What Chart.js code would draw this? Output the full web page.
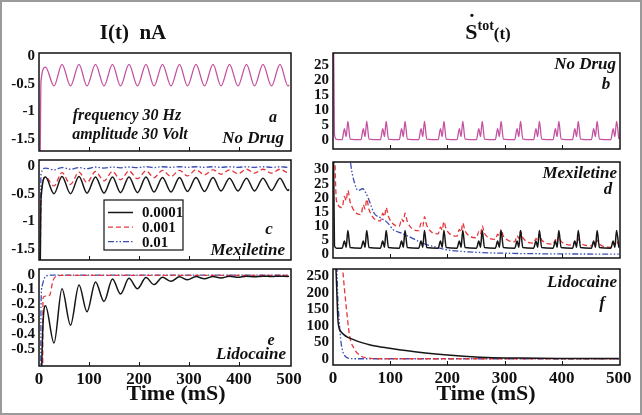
<!DOCTYPE html>
<html>
<head>
<meta charset="utf-8">
<script src="https://cdn.jsdelivr.net/npm/chart.js@4.4.0/dist/chart.umd.min.js"></script>
<style>
  html, body { margin: 0; padding: 0; background: #fff; }
  #fig { position: relative; width: 642px; height: 415px; overflow: hidden; font-family: "Liberation Serif", "DejaVu Serif", serif; color: #111; }
  #fig canvas { position: absolute; }
  #frame { position: absolute; left: 0; top: 0; right: 0; bottom: 0; border: 2px solid #9a9a9a; pointer-events: none; }
  .txt { position: absolute; font-weight: bold; white-space: nowrap; line-height: 1; }
</style>
</head>
<body>
<div id="fig"><div id="frame"></div></div>
<script>
// time axis ticks and per-panel y ticks
const xTicks = [0, 100, 200, 300, 400, 500];
const yTicksI = [0, -0.5, -1, -1.5];
const yTicksLido = [0, -0.1, -0.2, -0.3, -0.4, -0.5];
const yTicksS = [0, 5, 10, 15, 20, 25];
const yTicksSMex = [0, 5, 10, 15, 20, 25, 30];
const yTicksSLido = [0, 50, 100, 150, 200, 250];
const concLabels = ['0.0001', '0.001', '0.01'];

// current traces (left column), sampled at start, peaks and troughs
const tI = [0, 1, 4, 13, 30, 46, 63, 80, 96, 113, 130, 147, 163, 180, 197, 214, 230, 247, 264, 281, 297, 314, 331, 348, 364, 381, 398, 415, 431, 448, 465, 482, 498, 500];
const iNoDrug = [-3, -3, -0.45, -0.2, -0.54, -0.15, -0.54, -0.15, -0.54, -0.15, -0.54, -0.15, -0.54, -0.15, -0.54, -0.15, -0.54, -0.15, -0.54, -0.15, -0.54, -0.15, -0.54, -0.15, -0.54, -0.15, -0.54, -0.15, -0.54, -0.15, -0.54, -0.15, -0.54, -0.52];
const iMex1 = [-3, -3, -0.6, -0.2, -0.5, -0.19, -0.5, -0.19, -0.49, -0.2, -0.49, -0.2, -0.48, -0.2, -0.48, -0.2, -0.47, -0.21, -0.47, -0.21, -0.46, -0.21, -0.46, -0.21, -0.45, -0.22, -0.45, -0.22, -0.45, -0.22, -0.44, -0.22, -0.44, -0.42];
const iMex2 = [-3, -3, -0.6, -0.2, -0.36, -0.12, -0.33, -0.11, -0.3, -0.1, -0.27, -0.1, -0.25, -0.09, -0.23, -0.09, -0.21, -0.08, -0.19, -0.08, -0.18, -0.07, -0.16, -0.07, -0.15, -0.07, -0.14, -0.06, -0.13, -0.06, -0.13, -0.06, -0.12, -0.11];
const iMex3 = [-3, -3, -0.15, -0.04, -0.07, -0.03, -0.06, -0.03, -0.05, -0.02, -0.04, -0.02, -0.035, -0.02, -0.03, -0.015, -0.03, -0.015, -0.025, -0.015, -0.025, -0.015, -0.025, -0.015, -0.025, -0.015, -0.025, -0.015, -0.025, -0.015, -0.025, -0.015, -0.025, -0.02];
const iLido1 = [-3, -3, -0.9, -0.21, -0.46, -0.095, -0.34, -0.07, -0.25, -0.05, -0.18, -0.03, -0.13, -0.025, -0.095, -0.02, -0.067, -0.018, -0.045, -0.015, -0.035, -0.013, -0.028, -0.012, -0.022, -0.011, -0.018, -0.01, -0.015, -0.01, -0.013, -0.01, -0.012, -0.011];
const tLido2 = [0, 6, 8, 12, 21, 28, 35, 45, 500];
const iLido2 = [-3, -3, -0.16, -0.145, -0.14, -0.04, -0.01, -0.005, -0.005];
const tLido3 = [0, 2, 4, 6, 10, 15, 22, 500];
const iLido3 = [-3, -3, -0.22, -0.08, -0.03, -0.008, -0.003, -0.003];

// entropy production traces (right column)
const tS = [0, 2.5, 6,
  16, 20, 23, 26, 30,  49, 53, 56, 59, 63,  83, 87, 90, 93, 97,
  116, 120, 123, 126, 130,  150, 154, 157, 160, 164,  184, 188, 191, 194, 198,
  217, 221, 224, 227, 231,  251, 255, 258, 261, 265,  284, 288, 291, 294, 298,
  318, 322, 325, 328, 332,  351, 355, 358, 361, 365,  385, 389, 392, 395, 399,
  419, 423, 426, 429, 433,  452, 456, 459, 462, 466,  486, 490, 493, 496, 500];
const sNoDrug = [60, 2, 0.3,
  0.2, 3.9, 1.2, 6.3, 0.4,  0.2, 3.9, 1.2, 6.3, 0.4,  0.2, 3.9, 1.2, 6.3, 0.4,
  0.2, 3.9, 1.2, 6.3, 0.4,  0.2, 3.9, 1.2, 6.3, 0.4,  0.2, 3.9, 1.2, 6.3, 0.4,
  0.2, 3.9, 1.2, 6.3, 0.4,  0.2, 3.9, 1.2, 6.3, 0.4,  0.2, 3.9, 1.2, 6.3, 0.4,
  0.2, 3.9, 1.2, 6.3, 0.4,  0.2, 3.9, 1.2, 6.3, 0.4,  0.2, 3.9, 1.2, 6.3, 0.4,
  0.2, 3.9, 1.2, 6.3, 0.4,  0.2, 3.9, 1.2, 6.3, 0.4,  0.2, 3.9, 1.2, 6.3, 0.4];
const sMex1 = [60, 3, 2.1,
  2.1, 4.6, 2.4, 8.4, 2.3,  2.1, 4.6, 2.4, 8.4, 2.3,  2.1, 4.6, 2.4, 8.4, 2.3,
  2.1, 4.6, 2.4, 8.4, 2.3,  2.1, 4.6, 2.4, 8.4, 2.3,  2.1, 4.6, 2.4, 8.4, 2.3,
  2.1, 4.6, 2.4, 8.4, 2.3,  2.1, 4.6, 2.4, 8.4, 2.3,  2.1, 4.6, 2.4, 8.4, 2.3,
  2.1, 4.6, 2.4, 8.4, 2.3,  2.1, 4.6, 2.4, 8.4, 2.3,  2.1, 4.6, 2.4, 8.4, 2.3,
  2.1, 4.6, 2.4, 8.4, 2.3,  2.1, 4.6, 2.4, 8.4, 2.3,  2.1, 4.6, 2.4, 8.4, 2.3];
const sMex2 = [60, 40, 19,
  16.5, 20.5, 19, 22.6, 18.5,  14, 17.5, 16, 19.5, 15.8,  11.8, 14.5, 13.3, 16.5, 13.3,
  9.9, 12.5, 11.5, 14.5, 11.5,  8.3, 11, 9.8, 13.3, 10.2,  7.2, 9.6, 8.5, 11.5, 8.8,
  6.4, 8.8, 7.8, 11, 8.2,  5.8, 8.0, 7.0, 10, 7.4,  5.2, 7.1, 6.3, 8.7, 6.4,
  4.4, 6.5, 5.6, 8.1, 5.8,  3.9, 5.6, 4.9, 7, 5.0,  3.5, 5.1, 4.4, 6.4, 4.5,
  3.2, 4.4, 3.9, 5.3, 3.9,  2.9, 4.0, 3.6, 4.9, 3.5,  2.4, 3.7, 3.2, 4.6, 3.2];
const tMex3 = [0, 25, 31, 38, 44, 52, 58, 64, 72, 84, 96, 105, 119, 131, 154, 177, 200, 235, 300, 400, 500];
const sMex3 = [80, 45, 32, 25, 22.6, 23.2, 21.5, 18.6, 14.5, 12.8, 11, 8.7, 7.5, 6.4, 4.1, 2.6, 1.5, 0.8, 0.3, 0.05, 0];
const tLidoS1 = [0, 5, 9, 14, 37, 67, 99, 154, 212, 270, 329, 400, 500];
const sLido1 = [400, 280, 110, 82, 57, 41, 32, 19, 10, 4, 2, 1, 0.5];
const tLidoS2 = [0, 12, 17, 23, 29, 38, 49, 66, 80, 500];
const sLido2 = [600, 400, 272, 160, 70, 28, 8, 1, 0, 0];
const tLidoS3 = [0, 5, 8, 11, 14, 20, 29, 40, 500];
const sLido3 = [600, 400, 200, 110, 50, 10, 1, 0, 0];

const fig = document.getElementById('fig');
const serif = '"Liberation Serif", "DejaVu Serif", serif';
const PINK = '#c4519f', BLACK = '#161616', RED = '#e5363c', BLUE = '#3b4db3';
const DASH_RED = [5, 3], DASH_BLUE = [6, 2, 1.5, 2, 1.5, 2];

function pts(xs, ys) {
  return xs.map((x, i) => ({ x: x, y: ys[i] }));
}

function line(label, xs, ys, color, dash, width) {
  return {
    label: label,
    data: pts(xs, ys),
    borderColor: color,
    borderDash: dash || [],
    borderWidth: width || 1.3,
    fill: false,
    parsing: false,
    cubicInterpolationMode: 'monotone'
  };
}

// box around the plot area plus the small inner ticks on the time axis
const frame = {
  id: 'frame',
  afterDatasetsDraw(chart) {
    const ctx = chart.ctx, a = chart.chartArea;
    ctx.save();
    ctx.strokeStyle = '#111';
    ctx.lineWidth = 1.5;
    ctx.strokeRect(a.left, a.top, a.right - a.left, a.bottom - a.top);
    ctx.lineWidth = 1;
    xTicks.slice(1, -1).forEach(v => {
      const px = Math.round(chart.scales.x.getPixelForValue(v)) + 0.5;
      ctx.beginPath();
      ctx.moveTo(px, a.bottom);
      ctx.lineTo(px, a.bottom - 4);
      ctx.stroke();
    });
    ctx.restore();
  }
};

// legend box drawn inside panel c
const boxLegend = {
  id: 'boxLegend',
  afterDatasetsDraw(chart, args, opts) {
    if (!opts.show) return;
    const ctx = chart.ctx;
    const x0 = chart.chartArea.left + opts.x, y0 = chart.chartArea.top + opts.y;
    ctx.save();
    ctx.fillStyle = '#fff';
    ctx.fillRect(x0, y0, opts.w, opts.h);
    ctx.strokeStyle = '#111';
    ctx.lineWidth = 1.2;
    ctx.strokeRect(x0, y0, opts.w, opts.h);
    ctx.font = 'bold 15px ' + serif;
    ctx.textBaseline = 'middle';
    chart.data.datasets.forEach((ds, i) => {
      const y = y0 + 12.5 + i * 14.6;
      ctx.strokeStyle = ds.borderColor;
      ctx.lineWidth = ds.borderWidth;
      ctx.setLineDash(ds.borderDash);
      ctx.beginPath();
      ctx.moveTo(x0 + 4, y);
      ctx.lineTo(x0 + 29, y);
      ctx.stroke();
      ctx.setLineDash([]);
      ctx.fillStyle = '#111';
      ctx.fillText(ds.label, x0 + 38, y + 1);
    });
    ctx.restore();
  }
};

function panel(col, box, xMax, yMin, yMax, yTicks, datasets, showX, legend) {
  const c = document.createElement('canvas');
  const padT = 12, padR = 18;
  const xH = showX ? 24 : 0;
  const padB = showX ? 4 : 12;
  const w = box.r - col + padR, h = box.b - box.t + padT + padB + xH;
  c.width = w;
  c.height = h;
  c.style.left = col + 'px';
  c.style.top = (box.t - padT) + 'px';
  c.style.width = w + 'px';
  c.style.height = h + 'px';
  fig.insertBefore(c, document.getElementById('frame'));
  new Chart(c, {
    type: 'line',
    data: { datasets: datasets },
    options: {
      responsive: false,
      animation: false,
      layout: { padding: { top: padT, right: padR, bottom: padB, left: 0 } },
      elements: { point: { radius: 0 } },
      plugins: {
        legend: { display: false },
        tooltip: { enabled: false },
        boxLegend: legend || { show: false }
      },
      scales: {
        x: {
          type: 'linear', min: 0, max: xMax,
          grid: { display: false, drawTicks: false, tickLength: 0 }, border: { display: false },
          afterBuildTicks: s => { s.ticks = xTicks.map(v => ({ value: v })); },
          afterFit: s => { s.height = xH; },
          ticks: { display: showX, padding: 3, maxRotation: 0, autoSkip: false, color: '#111',
                   font: { family: serif, size: 17, weight: 'bold' }, callback: v => String(v) }
        },
        y: {
          type: 'linear', min: yMin, max: yMax,
          grid: { display: false, drawTicks: false, tickLength: 0 }, border: { display: false },
          afterBuildTicks: s => { s.ticks = yTicks.map(v => ({ value: v })); },
          afterFit: s => { s.width = box.l - col; },
          ticks: { padding: 4, autoSkip: false, color: '#111',
                   font: { family: serif, size: 15, weight: 'bold' }, callback: v => String(v) }
        }
      }
    },
    plugins: [frame, boxLegend]
  });
}

// a: current, no drug
panel(0, { l: 39, r: 291, t: 52, b: 152 }, 504, -1.71, 0.053, yTicksI,
  [line('No Drug', tI, iNoDrug, PINK, null, 1.3)], false);
// c: current, mexiletine
panel(0, { l: 39, r: 291, t: 159, b: 261 }, 504, -1.69, 0.106, yTicksI, [
  line(concLabels[0], tI, iMex1, BLACK, null, 1.5),
  line(concLabels[1], tI, iMex2, RED, DASH_RED, 1.3),
  line(concLabels[2], tI, iMex3, BLUE, DASH_BLUE, 1.3)
], false, { show: true, x: 65, y: 40, w: 79, h: 50 });
// e: current, lidocaine
panel(0, { l: 39, r: 291, t: 268, b: 366 }, 504, -0.615, 0.038, yTicksLido, [
  line(concLabels[0], tI, iLido1, BLACK, null, 1.5),
  line(concLabels[1], tLido2, iLido2, RED, DASH_RED, 1.3),
  line(concLabels[2], tLido3, iLido3, BLUE, DASH_BLUE, 1.3)
], true);
// b: entropy, no drug
panel(300, { l: 333, r: 620, t: 52, b: 150 }, 502, -2.9, 29, yTicksS,
  [line('No Drug', tS, sNoDrug, PINK, null, 1.3)], false);
// d: entropy, mexiletine
panel(300, { l: 333, r: 620, t: 161, b: 259 }, 502, -1.4, 32.7, yTicksSMex, [
  line(concLabels[0], tS, sMex1, BLACK, null, 1.5),
  line(concLabels[1], tS, sMex2, RED, DASH_RED, 1.3),
  line(concLabels[2], tMex3, sMex3, BLUE, DASH_BLUE, 1.3)
], false);
// f: entropy, lidocaine
panel(300, { l: 333, r: 620, t: 268, b: 365 }, 502, -19, 272, yTicksSLido, [
  line(concLabels[0], tLidoS1, sLido1, BLACK, null, 1.5),
  line(concLabels[1], tLidoS2, sLido2, RED, DASH_RED, 1.3),
  line(concLabels[2], tLidoS3, sLido3, BLUE, DASH_BLUE, 1.3)
], true);

function text(html, x, y, align, size, italic) {
  const d = document.createElement('div');
  d.className = 'txt';
  d.innerHTML = html;
  d.style.fontSize = size + 'px';
  if (italic) d.style.fontStyle = 'italic';
  d.style.left = x + 'px';
  d.style.top = y + 'px';
  d.style.transform = align === 'right' ? 'translate(-100%, -50%)' : 'translate(-50%, -50%)';
  fig.insertBefore(d, document.getElementById('frame'));
}

text('I(t)&nbsp;&nbsp;nA', 133, 32, 'center', 21);
text('<span style="position:relative">S<span style="position:absolute;left:3px;top:-8px">\u02D9</span></span>' +
     '<sup style="font-size:14px;vertical-align:9px">tot</sup><span style="font-size:17px">(t)</span>', 488, 31, 'center', 22);
text('Time (mS)', 176, 393, 'center', 22);
text('Time (mS)', 486, 393, 'center', 22);

text('frequency 30 Hz', 127, 115, 'center', 16, true);
text('amplitude 30 Volt', 130, 134, 'center', 16, true);
text('a', 273, 117, 'center', 16, true);
text('No Drug', 284, 137, 'right', 17, true);
text('No Drug', 616, 63, 'right', 17, true);
text('b', 606, 83, 'center', 17, true);
text('c', 269, 228, 'center', 17, true);
text('Mexiletine', 285, 249, 'right', 17, true);
text('Mexiletine', 617, 172, 'right', 17, true);
text('d', 608, 188, 'center', 17, true);
text('e', 271, 340, 'center', 16, true);
text('Lidocaine', 286, 353, 'right', 17, true);
text('Lidocaine', 617, 281, 'right', 17, true);
text('f', 602, 302, 'center', 17, true);
</script>
</body>
</html>
